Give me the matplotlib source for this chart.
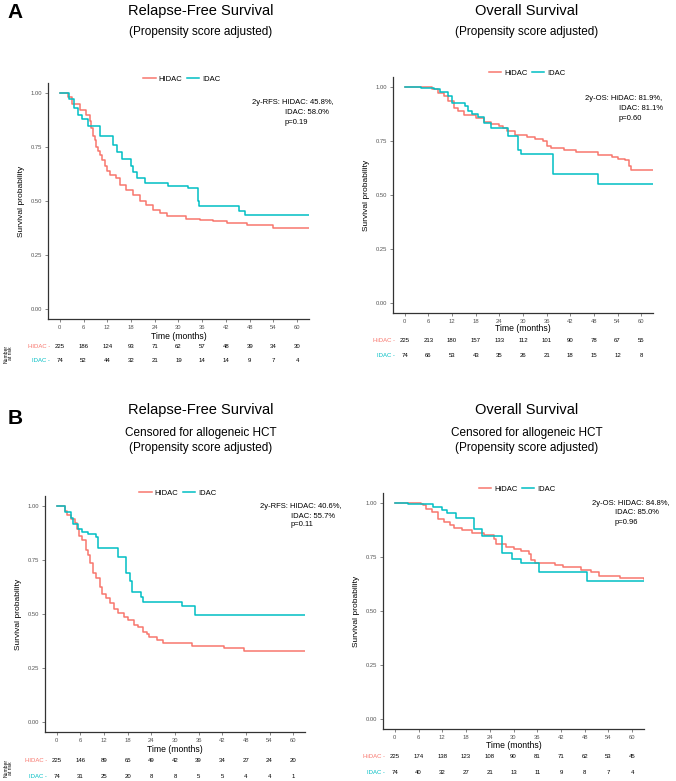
import matplotlib
matplotlib.use("Agg")
import matplotlib.pyplot as plt
from matplotlib.lines import Line2D
from matplotlib.transforms import blended_transform_factory

plt.rcParams['font.family'] = ['Liberation Sans', 'DejaVu Sans']

RED = '#F8766D'
CYAN = '#00BFC4'

# ---- data (months, survival probability) ----
rfs_a_hidac_t = [0, 2, 3, 5, 6.5, 7.5, 8.0, 8.4, 8.8, 9.2, 9.6, 10.1, 10.7, 11.3, 12.0, 12.6, 14.3, 15.1, 16.8,
                 18.5, 20.2, 21.9, 23.6, 25.3, 27, 32, 35.4, 38.8, 42.2, 47.3, 54, 64]
rfs_a_hidac_s = [1, 0.98, 0.95, 0.92, 0.90, 0.87, 0.84, 0.80, 0.78, 0.75, 0.73, 0.714, 0.69, 0.66, 0.64, 0.62,
                 0.605, 0.575, 0.55, 0.53, 0.50, 0.48, 0.46, 0.444, 0.43, 0.418, 0.413, 0.407, 0.40, 0.387, 0.373,
                 0.373]
rfs_a_idac_t = [0, 2.3, 3.5, 4.5, 5.5, 7.0, 7.2, 10.2, 13.4, 14.5, 15.8, 18.0, 18.6, 19.4, 21.5, 27.3, 32.4,
                35.0, 35.3, 45.3, 46.9, 64]
rfs_a_idac_s = [1, 0.97, 0.93, 0.90, 0.88, 0.876, 0.848, 0.80, 0.76, 0.725, 0.694, 0.663, 0.635, 0.606, 0.583,
                0.57, 0.561, 0.50, 0.478, 0.455, 0.434, 0.434]

os_a_hidac_t = [0, 7, 8.5, 10, 11, 12.5, 13.5, 15, 18, 20, 22, 24, 25, 26, 28, 31, 33, 35, 36, 37, 40.5, 43.5,
                48, 49, 52.5, 54, 56, 57, 57.5, 63.5, 64]
os_a_hidac_s = [1, 0.99, 0.972, 0.96, 0.934, 0.903, 0.887, 0.869, 0.856, 0.84, 0.83, 0.818, 0.808, 0.794, 0.779,
                0.768, 0.76, 0.748, 0.728, 0.717, 0.709, 0.70, 0.697, 0.686, 0.675, 0.668, 0.66, 0.632, 0.617,
                0.60, 0.60]
os_a_idac_t = [0, 4, 7.5, 9, 11, 12, 15.3, 16, 17, 18.7, 20, 22, 26.1, 28.8, 29.5, 37.7, 49, 64]
os_a_idac_s = [1, 0.995, 0.99, 0.977, 0.96, 0.926, 0.91, 0.887, 0.875, 0.86, 0.833, 0.81, 0.774, 0.71, 0.69,
               0.597, 0.553, 0.553]

rfs_b_hidac_t = [0, 2.1, 2.5, 3.5, 4.5, 5.0, 5.7, 6.5, 7.5, 8.0, 8.5, 9.3, 10.0, 11.0, 11.5, 12.5, 13.5, 14.5,
                 15.5, 17, 18, 19.5, 20.5, 22, 23, 23.5, 25.5, 27, 34.3, 42.5, 47.5, 53.5, 64]
rfs_b_hidac_s = [1, 0.975, 0.96, 0.94, 0.92, 0.892, 0.861, 0.843, 0.796, 0.773, 0.735, 0.69, 0.665, 0.627,
                 0.593, 0.573, 0.549, 0.525, 0.503, 0.488, 0.472, 0.449, 0.438, 0.418, 0.407, 0.395, 0.38, 0.367,
                 0.353, 0.343, 0.33, 0.33, 0.33]
rfs_b_idac_t = [0, 2.2, 3.5, 4.0, 5.3, 6.3, 8.0, 10.0, 10.5, 15.5, 17.6, 18.5, 19.0, 21.3, 22.0, 31.7, 35.0, 64]
rfs_b_idac_s = [1, 0.97, 0.943, 0.917, 0.892, 0.88, 0.87, 0.855, 0.804, 0.762, 0.688, 0.653, 0.60, 0.58, 0.557,
                0.537, 0.495, 0.495]

os_b_hidac_t = [0, 6.5, 7, 8, 9.5, 11, 12.5, 14, 15, 17, 19.5, 22.5, 25, 25.5, 28, 30, 32, 34, 34.5, 35.5, 40.5,
                42.5, 47, 49.5, 51.5, 57, 63]
os_b_hidac_s = [1, 0.995, 0.989, 0.974, 0.958, 0.928, 0.912, 0.897, 0.885, 0.874, 0.862, 0.85, 0.835, 0.812,
                0.797, 0.786, 0.777, 0.766, 0.735, 0.723, 0.712, 0.705, 0.692, 0.68, 0.663, 0.652, 0.646]
os_b_idac_t = [0, 3.2, 9.7, 12, 13.3, 15.5, 20, 22, 27, 29.5, 32, 36.5, 48.7, 63]
os_b_idac_s = [1, 0.995, 0.982, 0.966, 0.955, 0.932, 0.878, 0.846, 0.769, 0.74, 0.72, 0.68, 0.64, 0.64]

risk_times = [0, 6, 12, 18, 24, 30, 36, 42, 48, 54, 60]
risk_rfs_a_hidac = [225, 186, 124, 93, 71, 62, 57, 48, 39, 34, 30]
risk_rfs_a_idac = [74, 52, 44, 32, 21, 19, 14, 14, 9, 7, 4]
risk_os_a_hidac = [225, 213, 180, 157, 133, 112, 101, 90, 78, 67, 55]
risk_os_a_idac = [74, 66, 53, 43, 35, 26, 21, 18, 15, 12, 8]
risk_rfs_b_hidac = [225, 146, 89, 65, 49, 42, 39, 34, 27, 24, 20]
risk_rfs_b_idac = [74, 31, 25, 20, 8, 8, 5, 5, 4, 4, 1]
risk_os_b_hidac = [225, 174, 138, 123, 108, 90, 81, 71, 62, 53, 45]
risk_os_b_idac = [74, 40, 32, 27, 21, 13, 11, 9, 8, 7, 4]

W, H = 676, 781
fig = plt.figure(figsize=(W / 100, H / 100), dpi=100)
fig.patch.set_facecolor('white')


def fx(x):
    return x / W


def fy(y):
    return 1 - y / H


def panel(box, hidac, idac, risk_h, risk_i, hname, stats, legend_xy, time_y, rows_y, nar=False):
    l, t, r, b = box
    ax = fig.add_axes([fx(l), fy(b), (r - l) / W, (b - t) / H])
    ax.step(hidac[0], hidac[1], where='post', color=RED, lw=1.1)
    ax.step(idac[0], idac[1], where='post', color=CYAN, lw=1.1)
    ax.set_xlim(-3, 63)
    ax.set_ylim(-0.046, 1.046)
    ax.set_xticks(risk_times)
    ax.set_yticks([0, 0.25, 0.5, 0.75, 1.0])
    ax.set_yticklabels(['0.00', '0.25', '0.50', '0.75', '1.00'])
    ax.tick_params(labelsize=4.2, colors='#555555', length=2, width=0.5, pad=2)
    for s in ['top', 'right']:
        ax.spines[s].set_visible(False)
    for s in ['left', 'bottom']:
        ax.spines[s].set_color('#333333')
        ax.spines[s].set_linewidth(0.9)
    ax.set_ylabel('Survival probability', fontsize=6, labelpad=4)

    tr = blended_transform_factory(ax.transData, fig.transFigure)
    ax.text(30, fy(time_y), 'Time (months)', transform=tr, ha='center', va='center', fontsize=6.2)
    for val_row, y, col, lab in [(risk_h, rows_y[0], RED, hname + ' -'), (risk_i, rows_y[1], CYAN, 'IDAC -')]:
        for tm, v in zip(risk_times, val_row):
            fig.text(0, 0, str(v), transform=tr, fontsize=4.3, ha='center', va='center').set_position((tm, fy(y)))
        fig.text(fx(l + 2), fy(y), lab, color=col, fontsize=4.3, ha='right', va='center')
    if nar:
        fig.text(fx(8), fy((rows_y[0] + rows_y[1]) / 2), 'Number\nat risk', rotation=90, fontsize=3.6,
                 ha='center', va='center', linespacing=0.9)

    handles = [Line2D([], [], color=RED, lw=1.1), Line2D([], [], color=CYAN, lw=1.1)]
    fig.legend(handles, [hname, 'IDAC'], loc='center', bbox_to_anchor=(fx(legend_xy[0]), fy(legend_xy[1])),
               ncol=2, frameon=False, fontsize=5.5, handlelength=1.6, columnspacing=0.6, handletextpad=0.4,
               borderpad=0)

    (x1, y1, s1), (x2, y2, s2), (x3, y3, s3) = stats
    fig.text(fx(x1), fy(y1), s1, fontsize=5.5, va='center', ha='left')
    fig.text(fx(x2), fy(y2), s2, fontsize=5.5, va='center', ha='left')
    fig.text(fx(x3), fy(y3), s3, fontsize=5.5, va='center', ha='left')
    return ax


panel((48, 83, 309, 319), (rfs_a_hidac_t, rfs_a_hidac_s), (rfs_a_idac_t, rfs_a_idac_s),
      risk_rfs_a_hidac, risk_rfs_a_idac, 'HIDAC',
      [(252, 103, '2y-RFS: HIDAC: 45.8%,'), (285, 113, 'IDAC: 58.0%'), (285, 123, 'p=0.19')],
      (182, 79), 336, (346, 361), nar=True)
panel((393, 77, 653, 313), (os_a_hidac_t, os_a_hidac_s), (os_a_idac_t, os_a_idac_s),
      risk_os_a_hidac, risk_os_a_idac, 'HiDAC',
      [(585, 98, '2y-OS: HiDAC: 81.9%,'), (619, 108, 'IDAC: 81.1%'), (619, 118, 'p=0.60')],
      (527, 73), 328, (341, 356))
panel((45, 496, 305, 732), (rfs_b_hidac_t, rfs_b_hidac_s), (rfs_b_idac_t, rfs_b_idac_s),
      risk_rfs_b_hidac, risk_rfs_b_idac, 'HIDAC',
      [(260, 506, '2y-RFS: HIDAC: 40.6%,'), (291, 516, 'IDAC: 55.7%'), (291, 525, 'p=0.11')],
      (178, 493), 749, (760, 776), nar=True)
panel((383, 493, 644, 729), (os_b_hidac_t, os_b_hidac_s), (os_b_idac_t, os_b_idac_s),
      risk_os_b_hidac, risk_os_b_idac, 'HiDAC',
      [(592, 503, '2y-OS: HIDAC: 84.8%,'), (615, 513, 'IDAC: 85.0%'), (615, 522, 'p=0.96')],
      (517, 489), 746, (757, 773))

# titles and panel letters
fig.text(fx(15), fy(13), 'A', fontsize=15, fontweight='bold', ha='center', va='center')
fig.text(fx(15), fy(419), 'B', fontsize=15, fontweight='bold', ha='center', va='center')
for cx in (201, 527):
    fig.text(fx(cx), fy(11), 'Relapse-Free Survival' if cx < 300 else 'Overall Survival',
             fontsize=10.5, ha='center', va='center')
    fig.text(fx(cx), fy(32), '(Propensity score adjusted)', fontsize=8.5, ha='center', va='center')
    fig.text(fx(cx), fy(410), 'Relapse-Free Survival' if cx < 300 else 'Overall Survival',
             fontsize=10.5, ha='center', va='center')
    fig.text(fx(cx), fy(433), 'Censored for allogeneic HCT', fontsize=8.5, ha='center', va='center')
    fig.text(fx(cx), fy(448), '(Propensity score adjusted)', fontsize=8.5, ha='center', va='center')

fig.savefig('out.png', dpi=100)
